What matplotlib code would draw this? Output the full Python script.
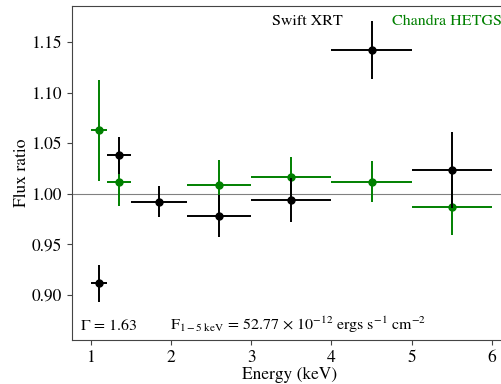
import matplotlib
matplotlib.use("Agg")
import matplotlib.pyplot as plt

# Swift XRT
swift_x = [1.1, 1.35, 1.85, 2.6, 3.5, 4.5, 5.5]
swift_xerr = [0.1, 0.15, 0.35, 0.4, 0.5, 0.5, 0.5]
swift_y = [0.9115, 1.038, 0.992, 0.978, 0.994, 1.142, 1.0235]
swift_yerr = [0.0185, 0.018, 0.0152, 0.0205, 0.022, 0.029, 0.0375]

# Chandra HETGS
chandra_x = [1.1, 1.35, 2.6, 3.5, 4.5, 5.5]
chandra_xerr = [0.1, 0.15, 0.4, 0.5, 0.5, 0.5]
chandra_y = [1.0625, 1.0118, 1.009, 1.017, 1.012, 0.987]
chandra_yerr = [0.0497, 0.024, 0.0246, 0.019, 0.0205, 0.028]

plt.rcParams['font.family'] = ['STIXGeneral', 'DejaVu Serif']
plt.rcParams['mathtext.fontset'] = 'stix'

fig = plt.figure(figsize=(5.01, 3.84), dpi=100)
W, H = 501, 384
left, right, top, bottom = 71.5, 508, 6, 340
ax = fig.add_axes([left / W, 1 - bottom / H, (right - left) / W, (bottom - top) / H])

ax.axhline(1.0, color='grey', lw=0.8, zorder=1)
ax.errorbar(swift_x, swift_y, xerr=swift_xerr, yerr=swift_yerr, fmt='o', color='black',
            ms=5, lw=1.4, capsize=0, zorder=3)
ax.errorbar(chandra_x, chandra_y, xerr=chandra_xerr, yerr=chandra_yerr, fmt='o', color='green',
            ms=5, lw=1.4, capsize=0, zorder=2)

ax.set_xlim(0.76, 6.2)
ax.set_ylim(0.8555, 1.1855)
ax.set_xticks([1, 2, 3, 4, 5, 6])
ax.set_yticks([0.90, 0.95, 1.00, 1.05, 1.10, 1.15])
ax.set_yticklabels(['0.90', '0.95', '1.00', '1.05', '1.10', '1.15'])
ax.tick_params(labelsize=12.5, length=3.5, color='#444444')
for s in ax.spines.values():
    s.set_color('#444444')

ax.set_xlabel('Energy (keV)', fontsize=12.5, labelpad=1)
ax.set_ylabel('Flux ratio', fontsize=12.5)
ax.yaxis.set_label_coords((30 - left) / (right - left), 0.5)

ax.text(3.70, 1.1705, 'Swift XRT', color='black', fontsize=11.5, ha='center', va='center')
ax.text(4.75, 1.1705, 'Chandra HETGS', color='green', fontsize=11.5, ha='left', va='center')
ax.text(0.86, 0.870, r'$\Gamma$ = 1.63', color='black', fontsize=11.5, ha='left', va='center')
ax.text(1.99, 0.870, r'F$_{1-5\ \mathrm{keV}}$ = 52.77 $\times$ 10$^{-12}$ ergs s$^{-1}$ cm$^{-2}$',
        color='black', fontsize=11.5, ha='left', va='center')

fig.savefig('out.png', dpi=100)
